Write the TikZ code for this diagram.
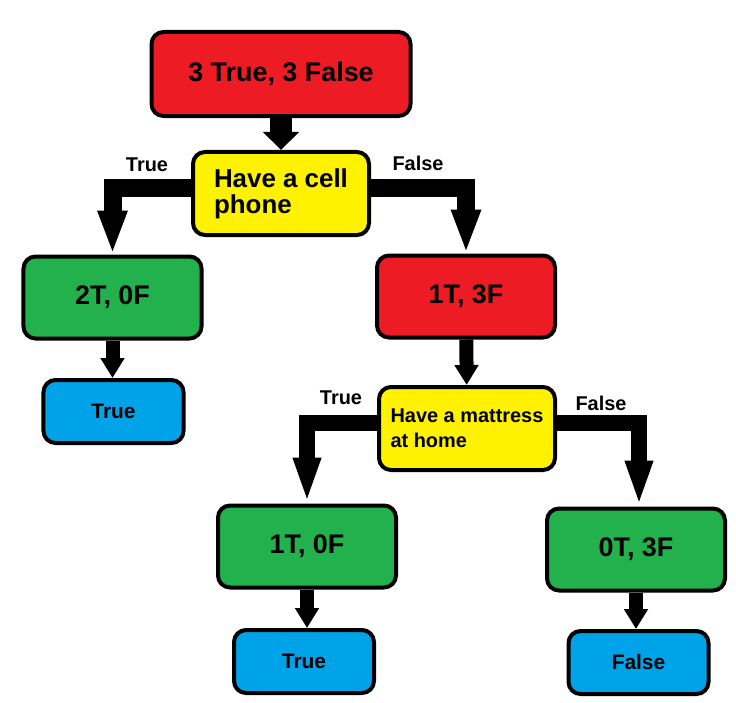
\documentclass[tikz,border=0pt]{standalone}
\usepackage{fontspec}
\setmainfont{Liberation Sans}
\usetikzlibrary{arrows.meta}
\definecolor{boxred}{HTML}{ED1C24}
\definecolor{boxyellow}{HTML}{FFF200}
\definecolor{boxgreen}{HTML}{22B14C}
\definecolor{boxblue}{HTML}{00A2E8}

\begin{document}
\begin{tikzpicture}[x=1bp,y=-1bp]
\tikzstyle{every node}=[inner sep=0pt, font=\bfseries\fontsize{20}{20}\selectfont]
\tikzstyle{box}=[draw, line width=4bp, rounded corners=12bp]
\tikzstyle{count}=[box, minimum width=178bp, minimum height=82bp, font=\bfseries\fontsize{27}{27}\selectfont]
\tikzstyle{question}=[box, fill=boxyellow, minimum width=176bp, minimum height=83bp, align=left]
\tikzstyle{leaf}=[box, fill=boxblue, minimum width=140bp, minimum height=63bp, font=\bfseries\fontsize{21}{21}\selectfont]
\tikzstyle{split}=[line width=18bp, -{Triangle[width=27bp,length=44bp]}]
\tikzstyle{drop}=[line width=14bp, -{Triangle[width=23bp,length=20bp]}]
\useasboundingbox (0,0) rectangle (736,703);
\draw (281,74) node (root) [count, fill=boxred, minimum width=259bp, minimum height=84bp] {3 True, 3 False};
\draw (281,193.5) node (cell) [question, font=\bfseries\fontsize{26}{26}\selectfont] {Have a cell\\phone};
\draw (112.5,297.5) node (pos) [count, fill=boxgreen] {2T, 0F};
\draw (113.5,411.5) node (leafa) [leaf] {True};
\draw (466,296.5) node (neg) [count, fill=boxred] {1T, 3F};
\draw (467,428.5) node (mat) [question, font=\bfseries\fontsize{20}{25}\selectfont] {Have a mattress\\at home};
\draw (307,546.5) node (posb) [count, fill=boxgreen] {1T, 0F};
\draw (304,661.5) node (leafb) [leaf] {True};
\draw (636,549.5) node (negb) [count, fill=boxgreen] {0T, 3F};
\draw (638.5,662.5) node (leafc) [leaf] {False};
\draw (147,165) node (t1) {True};
\draw (418,163) node (f1) {False};
\draw (341,398) node (t2) {True};
\draw (601,403) node (f2) {False};
\draw [line width=22bp, -{Triangle[width=35bp,length=18bp]}] (root) -- (cell);
\draw [split] ([yshift=5.5bp]cell.west) -| (pos.north);
\draw [split] ([yshift=5.5bp]cell.east) -| (neg.north);
\draw [split, line width=16bp, -{Triangle[width=25bp,length=46bp]}] ([yshift=5.5bp]mat.west) -| (posb.north);
\draw [split, line width=16bp, -{Triangle[width=25bp,length=46bp]}] ([yshift=5.5bp]mat.east) -| ([xshift=3bp]negb.north);
\draw [drop] (pos) -- (pos |- leafa.north);
\draw [drop] (neg) -- (mat);
\draw [drop] (posb) -- (posb |- leafb.north);
\draw [drop] (negb) -- (negb |- leafc.north);
\end{tikzpicture}
\end{document}
